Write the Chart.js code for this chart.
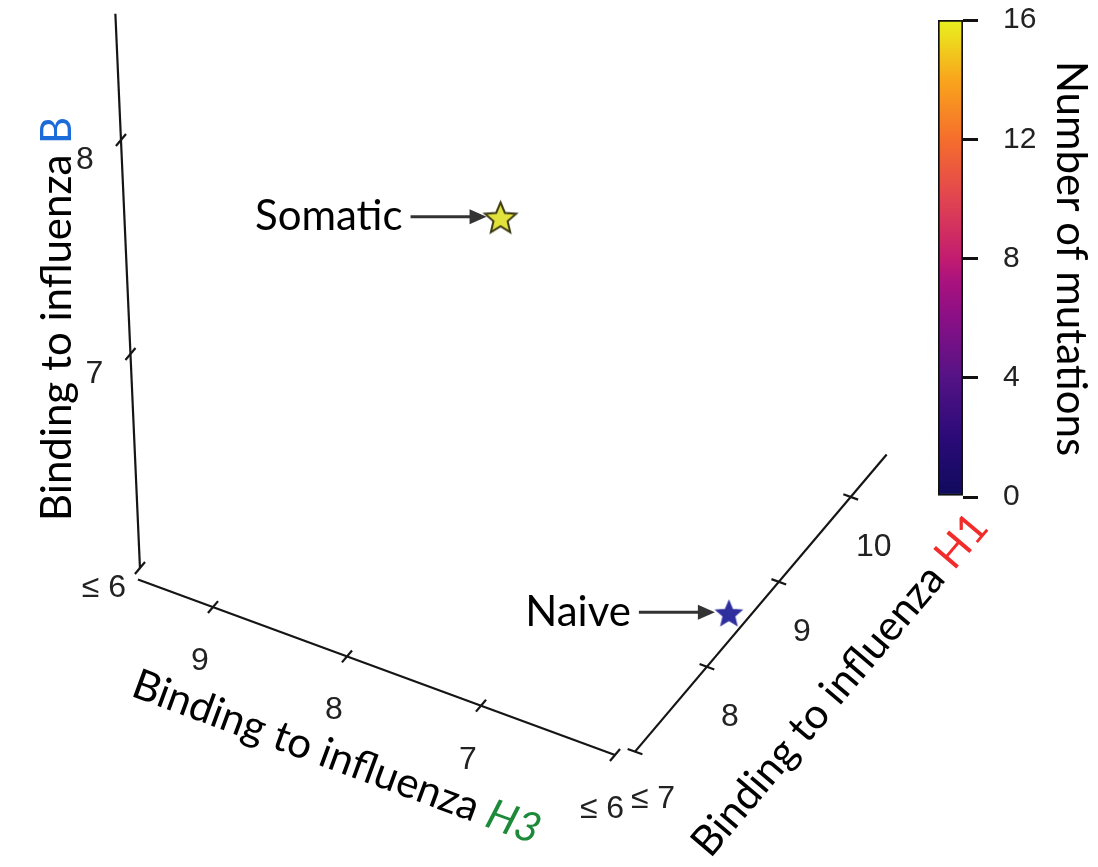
<!DOCTYPE html>
<html>
<head>
<meta charset="utf-8">
<script src="https://cdn.jsdelivr.net/npm/chart.js@4.4.1/dist/chart.umd.min.js"></script>
<style>
  html, body { margin: 0; padding: 0; background: #fff; }
  #wrap { position: relative; width: 1098px; height: 867px; overflow: hidden; }
  #main { position: absolute; left: 0; top: 0; }
  #cbar { position: absolute; left: 938px; top: -23px; }
</style>
</head>
<body>
<div id="wrap">
  <canvas id="main" width="1098" height="867"></canvas>
  <canvas id="cbar" width="160" height="563"></canvas>
</div>
<script>
// antibodies: binding (-log Kd) to H3, H1 and B, plus somatic mutation count
const antibodies = ['Somatic', 'Naive'];
const bindH3 = [8.41, 6.03];
const bindH1 = [10.0, 8.64];
const bindB = [6.76, 6.0];
const mutations = [16, 0];

// axes
const h3Range = [6, 9.56];
const h3Ticks = [6, 7, 8, 9];
const h3TickLabels = ['≤ 6', '7', '8', '9'];
const h1Range = [7, 10.5];
const h1Ticks = [7, 8, 9, 10];
const h1TickLabels = ['≤ 7', '8', '9', '10'];
const bRange = [6, 8.59];
const bTicks = [6, 7, 8];
const bTickLabels = ['≤ 6', '7', '8'];

// colour bar
const mutMax = 16;
const mutTicks = [0, 4, 8, 12, 16];

// ---- view / styles ----
// orthographic view: where (H3 6, H1 7, B 6) lands and one unit along each axis
const view = { origin: [615, 755], h3: [-134, -49.3], h1: [71.9, -84.9], b: [-9.5, -214] };
// where each axis line sits in the other two coordinates
const axisAt = { h3: { h1: 7, b: 6 }, h1: { h3: 5.847, b: 6.051 }, b: { h3: 9.604, h1: 7.11 } };

const cmapStops = [
  [0, '#0f0b5c'], [0.125, '#2b0a78'], [0.25, '#541385'], [0.375, '#8a0f86'],
  [0.45, '#a8127e'], [0.5, '#c21c70'], [0.625, '#e14450'], [0.75, '#f56e2c'],
  [0.875, '#f9a51c'], [1, '#e8f21e']
];
const starFill = ['#e2e23c', '#2f2f9e'];
const starEdge = ['#3a3a14', '#2f2f9e'];
const starSize = [16.5, 12.5];

const tickFont = '32px "Liberation Sans", Arial, sans-serif';
const titleSize = 42;

function project(h3, h1, b) {
  return {
    x: view.origin[0] + (h3 - 6) * view.h3[0] + (h1 - 7) * view.h1[0] + (b - 6) * view.b[0],
    y: view.origin[1] + (h3 - 6) * view.h3[1] + (h1 - 7) * view.h1[1] + (b - 6) * view.b[1]
  };
}
const onH3 = (v, d = 0) => project(v, axisAt.h3.h1 + d, axisAt.h3.b);
const onH1 = (v, d = 0) => project(axisAt.h1.h3 + d, v, axisAt.h1.b);
const onB = (v, d = 0) => project(axisAt.b.h3, axisAt.b.h1 + d, v);

const lineStyle = { showLine: true, borderColor: '#151515', borderWidth: 2.2, pointRadius: 0, fill: false };

const datasets = [];
datasets.push({ ...lineStyle, data: h3Range.map(v => onH3(v)) });
datasets.push({ ...lineStyle, data: h1Range.map(v => onH1(v)) });
datasets.push({ ...lineStyle, data: bRange.map(v => onB(v)) });
h3Ticks.forEach(v => datasets.push({ ...lineStyle, data: [onH3(v, -0.07), onH3(v, 0.07)] }));
h1Ticks.forEach(v => datasets.push({ ...lineStyle, data: [onH1(v, -0.055), onH1(v, 0.055)] }));
bTicks.forEach(v => datasets.push({ ...lineStyle, data: [onB(v, -0.07), onB(v, 0.07)] }));

function makeStar(r, fill, edge) {
  const c = document.createElement('canvas');
  c.width = c.height = Math.ceil(r * 2 + 6);
  const g = c.getContext('2d');
  const cx = c.width / 2, cy = c.height / 2;
  g.beginPath();
  for (let k = 0; k < 10; k++) {
    const rr = k % 2 ? r * 0.45 : r;
    const a = -Math.PI / 2 + k * Math.PI / 5;
    g.lineTo(cx + rr * Math.cos(a), cy + rr * Math.sin(a));
  }
  g.closePath();
  g.fillStyle = fill;
  g.fill();
  g.lineWidth = 2;
  g.lineJoin = 'miter';
  g.strokeStyle = edge;
  g.stroke();
  return c;
}

const starIdx = datasets.length;
datasets.push({
  data: antibodies.map((n, i) => project(bindH3[i], bindH1[i], bindB[i])),
  pointStyle: antibodies.map((n, i) => makeStar(starSize[i], starFill[i], starEdge[i])),
  pointRadius: 10
});

function drawParts(ctx, parts, cx, cy, angle) {
  ctx.save();
  ctx.translate(cx, cy);
  ctx.rotate(angle);
  ctx.textBaseline = 'middle';
  ctx.textAlign = 'left';
  let total = 0;
  parts.forEach(p => { ctx.font = p.font; total += ctx.measureText(p.text).width; });
  let x = -total / 2;
  parts.forEach(p => {
    ctx.font = p.font;
    ctx.fillStyle = p.color;
    ctx.fillText(p.text, x, 0);
    x += ctx.measureText(p.text).width;
  });
  ctx.restore();
}

const labels3d = {
  id: 'labels3d',
  afterDatasetsDraw(chart) {
    const ctx = chart.ctx;
    const sx = chart.scales.x, sy = chart.scales.y;
    const px = p => ({ x: sx.getPixelForValue(p.x), y: sy.getPixelForValue(p.y) });

    // tick labels
    ctx.save();
    ctx.font = tickFont;
    ctx.fillStyle = '#222';
    ctx.textAlign = 'center';
    ctx.textBaseline = 'middle';
    h3Ticks.forEach((v, i) => { const p = px(onH3(v)); ctx.fillText(h3TickLabels[i], p.x - 13, p.y + 54); });
    h1Ticks.forEach((v, i) => { const p = px(onH1(v)); ctx.fillText(h1TickLabels[i], p.x + (i ? 23 : 18), p.y + (i ? 50 : 48)); });
    bTicks.forEach((v, i) => { const p = px(onB(v)); ctx.fillText(bTickLabels[i], p.x - 36, p.y + 20); });
    ctx.restore();

    // axis titles
    const reg = titleSize + 'px Lato, sans-serif';
    const ita = 'italic ' + titleSize + 'px Lato, sans-serif';
    const base = 'Binding to influenza ';
    let p = px(onB((bRange[0] + bRange[1]) / 2));
    drawParts(ctx, [{ text: base, font: reg, color: '#000' }, { text: 'B', font: reg, color: '#1b6cd8' }],
      p.x - 70, p.y + 28, -Math.PI / 2);
    p = px(onH3((h3Range[0] + h3Range[1]) / 2));
    drawParts(ctx, [{ text: base, font: reg, color: '#000' }, { text: 'H3', font: ita, color: '#1d8a3a' }],
      p.x - 40, p.y + 90, Math.atan2(-view.h3[1], -view.h3[0]));
    p = px(onH1((h1Range[0] + h1Range[1]) / 2));
    drawParts(ctx, [{ text: base, font: reg, color: '#000' }, { text: 'H1', font: reg, color: '#f22b2b' }],
      p.x + 79, p.y + 82, Math.atan2(view.h1[1], view.h1[0]));

    // annotations with arrows
    const meta = chart.getDatasetMeta(starIdx);
    meta.data.forEach((pt, i) => {
      const y = pt.y - 2;
      ctx.save();
      ctx.font = reg;
      ctx.fillStyle = '#000';
      ctx.textAlign = 'right';
      ctx.textBaseline = 'middle';
      ctx.fillText(antibodies[i], pt.x - 98, y);
      const x1 = pt.x - 90, x2 = pt.x - 14;
      ctx.strokeStyle = '#333';
      ctx.fillStyle = '#333';
      ctx.lineWidth = 3;
      ctx.beginPath();
      ctx.moveTo(x1, y);
      ctx.lineTo(x2 - 12, y);
      ctx.stroke();
      ctx.beginPath();
      ctx.moveTo(x2, y);
      ctx.lineTo(x2 - 17, y - 7.5);
      ctx.lineTo(x2 - 17, y + 7.5);
      ctx.closePath();
      ctx.fill();
      ctx.restore();
    });
  }
};

new Chart(document.getElementById('main'), {
  type: 'scatter',
  data: { datasets },
  options: {
    responsive: false,
    animation: false,
    layout: { padding: 0, autoPadding: false },
    plugins: { legend: { display: false }, tooltip: { enabled: false } },
    scales: {
      x: { type: 'linear', min: 0, max: 1098, display: false },
      y: { type: 'linear', min: 0, max: 867, reverse: true, display: false }
    }
  },
  plugins: [labels3d]
});

// colour bar (tick padding also insets the bar vertically, hence the canvas offset)
new Chart(document.getElementById('cbar'), {
  type: 'bar',
  data: {
    labels: [''],
    datasets: [{
      data: [mutMax],
      backgroundColor: c => {
        const area = c.chart.chartArea;
        if (!area) return '#888';
        const g = c.chart.ctx.createLinearGradient(0, area.bottom, 0, area.top);
        cmapStops.forEach(s => g.addColorStop(s[0], s[1]));
        return g;
      },
      borderColor: '#111',
      borderWidth: 2,
      borderSkipped: false,
      barPercentage: 1,
      categoryPercentage: 1
    }]
  },
  options: {
    responsive: false,
    animation: false,
    layout: { padding: 0 },
    plugins: { legend: { display: false }, tooltip: { enabled: false } },
    scales: {
      x: { display: false },
      y: {
        position: 'right',
        min: 0,
        max: mutMax,
        afterBuildTicks: s => { s.ticks = mutTicks.map(v => ({ value: v })); },
        afterFit: s => { s.width = 135; },
        ticks: { padding: 25, color: '#222', font: { family: '"Liberation Sans", Arial, sans-serif', size: 30 } },
        grid: { drawOnChartArea: false, tickLength: 15, color: '#111', lineWidth: 3 },
        border: { display: false },
        title: { display: true, text: 'Number of mutations', color: '#000', padding: { top: 2, bottom: 0 },
                 font: { family: 'Lato, sans-serif', size: titleSize } }
      }
    }
  }
});
</script>
</body>
</html>
